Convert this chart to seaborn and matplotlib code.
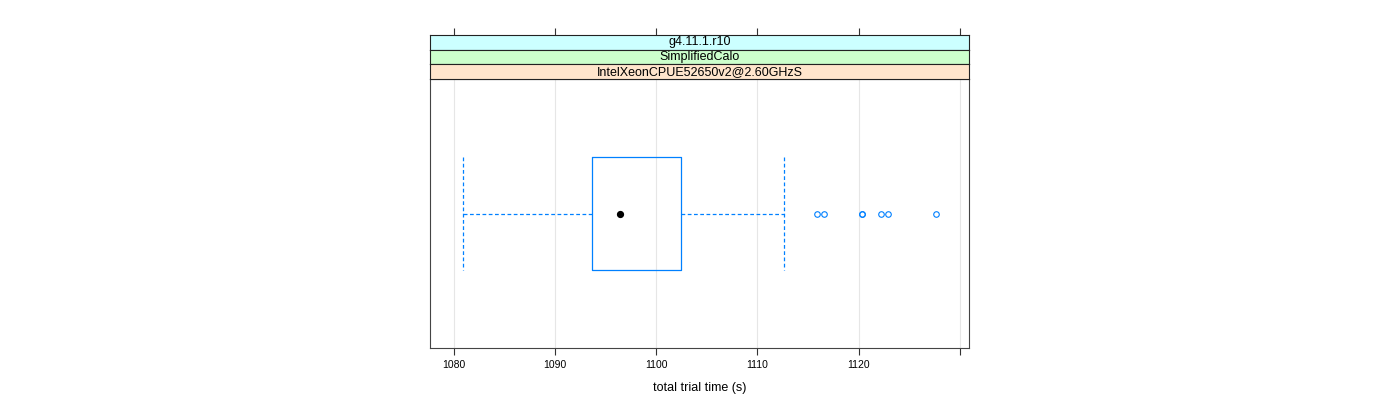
import numpy as np
import pandas as pd
import matplotlib
matplotlib.use("Agg")
import matplotlib.pyplot as plt
import seaborn as sns

# ---- data (trial times in seconds) ----
trial_times = [1080.94, 1086.2, 1088.5, 1090.1, 1091.3, 1092.2, 1092.9, 1093.3,
               1093.67, 1094.1, 1094.5, 1094.9, 1095.3, 1095.6, 1095.9, 1096.2,
               1096.39, 1096.9, 1097.6, 1098.4, 1099.2, 1100.1, 1100.9, 1101.7,
               1102.46, 1112.63, 1115.88, 1116.62, 1120.28, 1120.35, 1122.25,
               1122.94, 1127.63]
strip_labels = ["g4.11.1.r10", "SimplifiedCalo", "IntelXeonCPUE52650v2@2.60GHzS"]
strip_colors = ["#ccffff", "#ccffcc", "#ffe5cc"]
x_ticks = [1080, 1090, 1100, 1110, 1120, 1130]
x_ticklabels = ["1080", "1090", "1100", "1110", "1120", ""]
x_label = "total trial time (s)"

sns.set_theme(style="white")
plt.rcParams["font.family"] = ["Liberation Sans", "DejaVu Sans"]

W, H = 1400, 400
fig = plt.figure(figsize=(14, 4), dpi=100)

def fx(px):
    return px / W

def fy(py):
    return 1 - py / H

left, right = 430, 969
panel_top, panel_bot = 79, 348
ax = fig.add_axes([fx(left), fy(panel_bot), fx(right - left), (panel_bot - panel_top) / H])

df = pd.DataFrame({"time": trial_times})
blue = "#0080ff"
sns.boxplot(data=df, x="time", orient="h", ax=ax, width=0.5, fill=False,
            color=blue, linewidth=0.9,
            whiskerprops=dict(linestyle=(0, (3, 2)), color=blue, linewidth=0.9),
            capprops=dict(linestyle=(0, (3, 2)), color=blue, linewidth=0.9),
            medianprops=dict(visible=False),
            flierprops=dict(marker="o", markerfacecolor="none", markeredgecolor=blue,
                            markersize=4, markeredgewidth=0.8),
            capwidths=0.5)

med = np.median(trial_times)
ax.plot([med], [0], "o", color="black", markersize=4.2, zorder=5)

ax.set_xlim(1077.68, 1130.89)
ax.set_ylim(0.6, -0.6)
ax.set_xticks(x_ticks)
ax.set_xticklabels(x_ticklabels, fontsize=7.5, color="black")
ax.set_yticks([])
ax.set_ylabel("")
ax.set_xlabel(x_label, fontsize=9, color="black", labelpad=8)
for xv in x_ticks:
    ax.axvline(xv, color="#e6e6e6", linewidth=0.8, zorder=0)
ax.tick_params(axis="x", direction="out", length=5, width=0.8, color="#333333",
               bottom=True, top=False, pad=4)
for sp in ax.spines.values():
    sp.set_visible(True)
    sp.set_color("#444444")
    sp.set_linewidth(0.8)

# ---- strips ----
strip_top = 35
sh = (panel_top - strip_top) / 3
for i, (lab, col) in enumerate(zip(strip_labels, strip_colors)):
    top_px = strip_top + i * sh
    sax = fig.add_axes([fx(left), fy(top_px + sh), fx(right - left), sh / H])
    sax.set_facecolor(col)
    sax.set_xlim(ax.get_xlim())
    sax.set_ylim(0, 1)
    sax.set_yticks([])
    sax.text(0.5, 0.5, lab, transform=sax.transAxes, ha="center", va="center",
             fontsize=9, color="black")
    for sp in sax.spines.values():
        sp.set_visible(True)
        sp.set_color("#222222")
        sp.set_linewidth(0.8)
    if i == 0:
        sax.xaxis.tick_top()
        sax.set_xticks(x_ticks)
        sax.set_xticklabels([])
        sax.tick_params(axis="x", direction="out", length=5, width=0.8,
                        color="#333333", top=True, bottom=False)
    else:
        sax.set_xticks([])

fig.savefig("out.png", dpi=100)
